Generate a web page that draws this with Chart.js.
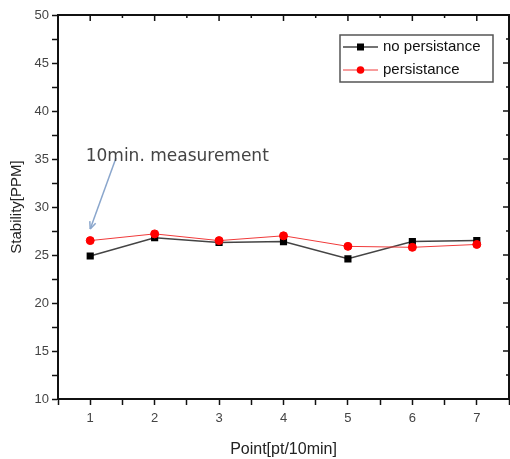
<!DOCTYPE html>
<html>
<head>
<meta charset="utf-8">
<script src="https://cdn.jsdelivr.net/npm/chart.js@4/dist/chart.umd.min.js"></script>
<style>
  html, body { margin: 0; padding: 0; background: #fff; }
  #wrap { width: 510px; height: 459px; }
</style>
</head>
<body>
<div id="wrap"><canvas id="stability-chart"></canvas></div>
<script>
// values
var points = [1, 2, 3, 4, 5, 6, 7];
var noPersistance = [24.9, 26.8, 26.3, 26.4, 24.6, 26.4, 26.5];
var persistance = [26.5, 27.2, 26.5, 27.0, 25.9, 25.8, 26.1];
var yTickLabels = [10, 15, 20, 25, 30, 35, 40, 45, 50];
var xTickLabels = [1, 2, 3, 4, 5, 6, 7];

function toXY(vals) {
  return points.map(function (p, i) { return { x: p, y: vals[i] }; });
}

var axisFont = { family: "'Liberation Sans', Arial, sans-serif", size: 13 };

// top/right frame with inward ticks
var framePlugin = {
  id: 'frame',
  afterDraw: function (chart) {
    var ctx = chart.ctx, a = chart.chartArea;
    var xs = chart.scales.x, ys = chart.scales.y;
    ctx.save();
    ctx.strokeStyle = '#111';
    ctx.lineWidth = 2;
    ctx.beginPath();
    ctx.moveTo(a.left, a.top);
    ctx.lineTo(a.right, a.top);
    ctx.lineTo(a.right, a.bottom);
    ctx.stroke();
    ctx.lineWidth = 1.5;
    for (var v = 0.5; v <= 7.5; v += 0.5) {
      var px = xs.getPixelForValue(v);
      var len = (v % 1 === 0) ? 6 : 3;
      ctx.beginPath();
      ctx.moveTo(px, a.top);
      ctx.lineTo(px, a.top + len);
      ctx.stroke();
    }
    for (var w = 10; w <= 50; w += 2.5) {
      var py = ys.getPixelForValue(w);
      var l2 = (w % 5 === 0) ? 6 : 3;
      ctx.beginPath();
      ctx.moveTo(a.right, py);
      ctx.lineTo(a.right - l2, py);
      ctx.stroke();
    }
    ctx.restore();
  }
};

// "10min. measurement" note with arrow
var notePlugin = {
  id: 'note',
  afterDraw: function (chart) {
    var ctx = chart.ctx;
    var xs = chart.scales.x, ys = chart.scales.y;
    var x0 = xs.getPixelForValue(1.4), y0 = ys.getPixelForValue(35.1);
    var x1 = xs.getPixelForValue(1.0), y1 = ys.getPixelForValue(27.7);
    ctx.save();
    ctx.strokeStyle = '#8aa6cc';
    ctx.lineWidth = 1.5;
    ctx.beginPath();
    ctx.moveTo(x0, y0);
    ctx.lineTo(x1, y1);
    ctx.stroke();
    var ang = Math.atan2(y1 - y0, x1 - x0);
    ctx.beginPath();
    ctx.moveTo(x1, y1);
    ctx.lineTo(x1 - 8 * Math.cos(ang - 0.4), y1 - 8 * Math.sin(ang - 0.4));
    ctx.moveTo(x1, y1);
    ctx.lineTo(x1 - 8 * Math.cos(ang + 0.4), y1 - 8 * Math.sin(ang + 0.4));
    ctx.stroke();
    ctx.fillStyle = '#444';
    ctx.font = "17px 'DejaVu Sans', sans-serif";
    ctx.textBaseline = 'middle';
    ctx.textAlign = 'left';
    ctx.fillText('10min. measurement', xs.getPixelForValue(0.93), ys.getPixelForValue(35.3));
    ctx.restore();
  }
};

// legend box inside the plot, upper right
var legendPlugin = {
  id: 'boxLegend',
  afterDraw: function (chart) {
    var ctx = chart.ctx;
    var bx = 340, by = 35, bw = 153, bh = 47;
    ctx.save();
    ctx.strokeStyle = '#555';
    ctx.lineWidth = 1.5;
    ctx.fillStyle = '#fff';
    ctx.fillRect(bx, by, bw, bh);
    ctx.strokeRect(bx, by, bw, bh);
    [0, 1].forEach(function (i) {
      var ds = chart.data.datasets[i];
      var cy = by + 12 + i * 23;
      ctx.strokeStyle = ds.borderColor;
      ctx.lineWidth = ds.borderWidth;
      ctx.beginPath();
      ctx.moveTo(bx + 3, cy);
      ctx.lineTo(bx + 38, cy);
      ctx.stroke();
      ctx.fillStyle = ds.pointBackgroundColor;
      if (ds.pointStyle === 'rect') {
        ctx.fillRect(bx + 17, cy - 3.5, 7, 7);
      } else {
        ctx.beginPath();
        ctx.arc(bx + 20.5, cy, 3.8, 0, Math.PI * 2);
        ctx.fill();
      }
      ctx.fillStyle = '#111';
      ctx.font = "15px 'Liberation Sans', Arial, sans-serif";
      ctx.textBaseline = 'middle';
      ctx.fillText(ds.label, bx + 43, cy);
    });
    ctx.restore();
  }
};

var ctx = document.getElementById('stability-chart').getContext('2d');
new Chart(ctx, {
  type: 'line',
  data: {
    datasets: [{
      label: 'no persistance',
      data: toXY(noPersistance),
      borderColor: '#444',
      backgroundColor: '#000',
      pointBackgroundColor: '#000',
      pointBorderColor: '#000',
      pointStyle: 'rect',
      pointRadius: 4,
      borderWidth: 1.5,
      order: 1
    }, {
      label: 'persistance',
      data: toXY(persistance),
      borderColor: '#f03a3a',
      backgroundColor: '#ff0000',
      pointBackgroundColor: '#ff0000',
      pointBorderColor: '#ff0000',
      pointStyle: 'circle',
      pointRadius: 4,
      borderWidth: 1,
      order: 0
    }]
  },
  options: {
    responsive: true,
    maintainAspectRatio: false,
    animation: false,
    layout: {
      autoPadding: false,
      padding: { top: 15, right: 1, left: 0, bottom: 0 }
    },
    plugins: {
      legend: { display: false },
      tooltip: { enabled: false }
    },
    scales: {
      x: {
        type: 'linear',
        min: 0.5,
        max: 7.5,
        afterFit: function (s) {
          s.height = 60;
          s.paddingLeft = 0;
          s.paddingRight = 0;
        },
        border: { color: '#111', width: 2 },
        grid: {
          drawOnChartArea: false,
          tickLength: 6,
          tickColor: '#111',
          tickWidth: 1.5
        },
        ticks: {
          stepSize: 0.5,
          color: '#444',
          font: axisFont,
          padding: 6,
          maxRotation: 0,
          autoSkip: false,
          callback: function (v) { return xTickLabels.indexOf(v) >= 0 ? String(v) : ''; }
        },
        title: {
          display: true,
          text: 'Point[pt/10min]',
          color: '#222',
          font: { family: "'Liberation Sans', Arial, sans-serif", size: 16 },
          padding: { top: 6, bottom: 0 }
        }
      },
      y: {
        min: 10,
        max: 50,
        afterFit: function (s) { s.width = 58; },
        border: { color: '#111', width: 2 },
        grid: {
          drawOnChartArea: false,
          tickLength: 6,
          tickColor: '#111',
          tickWidth: 1.5
        },
        ticks: {
          stepSize: 2.5,
          color: '#444',
          font: axisFont,
          padding: 3,
          autoSkip: false,
          callback: function (v) { return yTickLabels.indexOf(v) >= 0 ? String(v) : ''; }
        },
        title: {
          display: true,
          text: 'Stability[PPM]',
          color: '#222',
          font: { family: "'Liberation Sans', Arial, sans-serif", size: 15 },
          padding: { top: 8, bottom: 0 }
        }
      }
    }
  },
  plugins: [framePlugin, notePlugin, legendPlugin]
});
</script>
</body>
</html>
